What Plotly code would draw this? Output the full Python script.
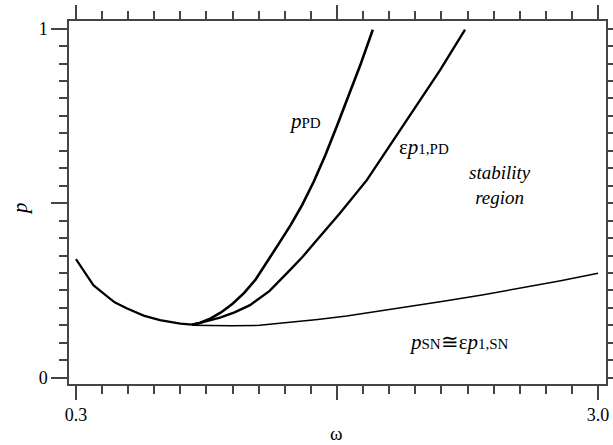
import plotly.graph_objects as go

# shared left branch (all curves coincide)
omega_left = [0.30, 0.347, 0.39, 0.45, 0.50, 0.562, 0.65, 0.734, 0.84, 0.90]
p_left = [0.340, 0.299, 0.265, 0.238, 0.216, 0.199, 0.178, 0.165, 0.155, 0.152]

# saddle-node branch
omega_sn = [0.90, 1.00, 1.10, 1.25, 1.40, 1.55, 1.70, 1.85, 2.00, 2.20, 2.40, 2.60, 2.80, 3.00]
p_sn = [0.150, 0.149, 0.149, 0.150, 0.158, 0.167, 0.177, 0.189, 0.202, 0.219, 0.237, 0.256, 0.277, 0.299]

# period-doubling branch p_PD
omega_pd = [0.90, 0.94, 0.99, 1.05, 1.11, 1.17, 1.23, 1.29, 1.35, 1.41, 1.47, 1.53, 1.59, 1.65, 1.71, 1.77, 1.835]
p_pd = [0.152, 0.157, 0.168, 0.187, 0.212, 0.243, 0.282, 0.332, 0.385, 0.437, 0.495, 0.562, 0.638, 0.722, 0.808, 0.895, 0.997]

# first-order approximation eps*p_1,PD
omega_p1pd = [0.90, 0.941, 1.045, 1.12, 1.20, 1.30, 1.39, 1.47, 1.545, 1.665, 1.804, 1.94, 2.043, 2.183, 2.312]
p_p1pd = [0.152, 0.157, 0.172, 0.187, 0.208, 0.248, 0.299, 0.345, 0.394, 0.471, 0.566, 0.680, 0.766, 0.881, 0.997]

x_tickvals = [0.3, 1.65, 3.0]
x_ticktext = ["0.3", "", "3.0"]
y_tickvals = [0, 0.5, 1]
y_ticktext = ["0", "", "1"]

FONT = "Liberation Serif, Tinos, Times New Roman, DejaVu Serif, serif"
AX = "#444444"

fig = go.Figure()
fig.add_trace(go.Scatter(x=omega_sn, y=p_sn, mode="lines", line=dict(color="black", width=1.5), showlegend=False))
fig.add_trace(go.Scatter(x=omega_left, y=p_left, mode="lines", line=dict(color="black", width=2.2), showlegend=False))
fig.add_trace(go.Scatter(x=omega_pd, y=p_pd, mode="lines", line=dict(color="black", width=2.6), showlegend=False))
fig.add_trace(go.Scatter(x=omega_p1pd, y=p_p1pd, mode="lines", line=dict(color="black", width=2.4), showlegend=False))

sub = "<span style='font-size:15px'>%s</span>"
ann = [
    dict(x=1.390, y=0.735, text="<i>p</i>" + sub % "PD", xanchor="left", size=21),
    dict(x=1.962, y=0.660, text="ε<i>p</i>" + sub % "1,PD", xanchor="left", size=21),
    dict(x=2.012, y=0.102, text="<i>p</i>" + sub % "SN" + "≅ε<i>p</i>" + sub % "1,SN", xanchor="left", size=21),
    dict(x=2.493, y=0.553, text="<i>stability</i><br><i>region</i>", xanchor="center", size=19),
]
for a in ann:
    size = a.pop("size")
    fig.add_annotation(xref="x", yref="y", yanchor="middle", showarrow=False,
                       font=dict(family=FONT, size=size, color="black"), **a)

# axis titles
fig.add_annotation(xref="paper", yref="paper", x=0.498, y=-0.137, yanchor="middle", xanchor="center",
                   showarrow=False, text="ω", font=dict(family=FONT, size=19, color="black"))
fig.add_annotation(xref="paper", yref="paper", x=-0.09, y=0.484, yanchor="middle", xanchor="center",
                   showarrow=False, text="<i>p</i>", textangle=-90, font=dict(family=FONT, size=21, color="black"))

fig.update_layout(
    width=613, height=445,
    margin=dict(l=69, r=7, t=21, b=61, autoexpand=False),
    paper_bgcolor="white", plot_bgcolor="white",
    font=dict(family=FONT, size=18, color="black"),
    xaxis=dict(range=[0.264, 3.041], showgrid=False, zeroline=False, automargin=False,
               showline=True, linecolor=AX, linewidth=1.5, mirror="allticks",
               ticks="outside", ticklen=14, tickwidth=1.5, tickcolor=AX,
               tickmode="array", tickvals=x_tickvals, ticktext=x_ticktext,
               tickfont=dict(family=FONT, size=18, color="black"),
               minor=dict(ticks="outside", ticklen=8, tickwidth=1.5, tickcolor=AX, dtick=0.135, tick0=0.3, showgrid=False)),
    yaxis=dict(range=[-0.018, 1.022], showgrid=False, zeroline=False, automargin=False,
               showline=True, linecolor=AX, linewidth=1.5, mirror="allticks",
               ticks="outside", ticklen=16, tickwidth=1.5, tickcolor=AX,
               tickmode="array", tickvals=y_tickvals, ticktext=y_ticktext,
               tickfont=dict(family=FONT, size=18, color="black"),
               minor=dict(ticks="outside", ticklen=8, tickwidth=1.5, tickcolor=AX, dtick=0.05, tick0=0, showgrid=False)),
)

fig.write_html("out.html", config={"displayModeBar": False},
               post_script="document.body.style.margin='0';document.body.style.padding='0';")
